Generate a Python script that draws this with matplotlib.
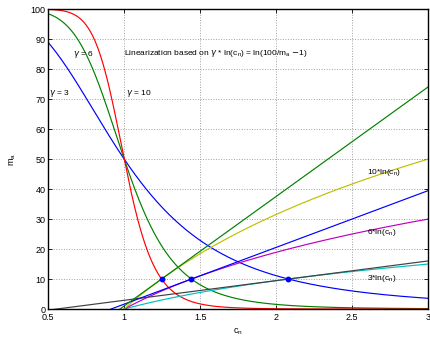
import numpy as np
import matplotlib.pyplot as plt

# parameters
gammas = [3, 6, 10]                    # exponents of the sigmoid curves
curve_colors = ['#0000ff', '#008000', '#ff0000']
log_colors = ['#00bfbf', '#bf00bf', '#bfbf00']
tangent_colors = ['#404040', '#0000ff', '#008000']
m_ref = 10                             # level where the linearization is anchored
x_min, x_max = 0.5, 3.0
x_ticks = [0.5, 1, 1.5, 2, 2.5, 3]
y_ticks = [0, 10, 20, 30, 40, 50, 60, 70, 80, 90, 100]

plt.rcParams['font.family'] = ['Liberation Sans', 'DejaVu Sans']
plt.rcParams['font.size'] = 6.5

fig = plt.figure(figsize=(4.3, 3.37), dpi=100)
ax = fig.add_axes([0.112, 0.083, 0.884, 0.890])

c = np.linspace(x_min, x_max, 600)
scale = m_ref / np.log(100.0 / m_ref - 1)

# sigmoid curves m_a = 100 / (1 + c^gamma)
for g, col in zip(gammas, curve_colors):
    ax.plot(c, 100.0 / (1 + c ** g), color=col, lw=0.85)

# gamma*ln(c) curves (scaled so they pass through m_ref)
for g, col in zip(gammas, log_colors):
    ax.plot(c, scale * g * np.log(c), color=col, lw=0.85)

# tangents of the log curves at the anchor points
for g, col in zip(gammas, tangent_colors):
    c0 = (100.0 / m_ref - 1) ** (1.0 / g)
    slope = scale * g / c0
    ax.plot(c, m_ref + slope * (c - c0), color=col, lw=0.85)
    ax.plot(c0, m_ref, 'o', color='#0000ff', ms=3.2)

fs = 6
ax.text(0.665, 85, r'$\gamma$ = 6', fontsize=fs, va='center')
ax.text(0.505, 72, r'$\gamma$ = 3', fontsize=fs, va='center')
ax.text(1.01, 72, r'$\gamma$ = 10', fontsize=fs, va='center')
ax.text(1.0, 85.3, r'Linearization based on $\gamma$ * ln(c$_\mathregular{n}$) = ln(100/m$_\mathregular{a}$ $-$1)',
        fontsize=fs, va='center')
ax.text(2.6, 45.5, r'10*ln(c$_\mathregular{n}$)', fontsize=fs, va='center')
ax.text(2.6, 25.5, r'6*ln(c$_\mathregular{n}$)', fontsize=fs, va='center')
ax.text(2.6, 10.2, r'3*ln(c$_\mathregular{n}$)', fontsize=fs, va='center')

ax.set_xlim(x_min, x_max)
ax.set_ylim(0, 100)
ax.set_xticks(x_ticks)
ax.set_xticklabels(['0.5', '1', '1.5', '2', '2.5', '3'])
ax.set_yticks(y_ticks)
ax.set_xlabel(r'c$_\mathregular{n}$', fontsize=fs + 0.5, labelpad=3)
ax.set_ylabel(r'm$_\mathregular{a}$', fontsize=fs + 0.5, labelpad=9)
ax.grid(True, linestyle=':', color='#a0a0a0', lw=0.7)
ax.tick_params(direction='in', top=True, right=True, length=3, width=0.6)
ax.tick_params(axis='x', pad=3)
ax.tick_params(axis='y', pad=2)
for s in ax.spines.values():
    s.set_linewidth(1.0)

fig.savefig('out.png', dpi=100)
